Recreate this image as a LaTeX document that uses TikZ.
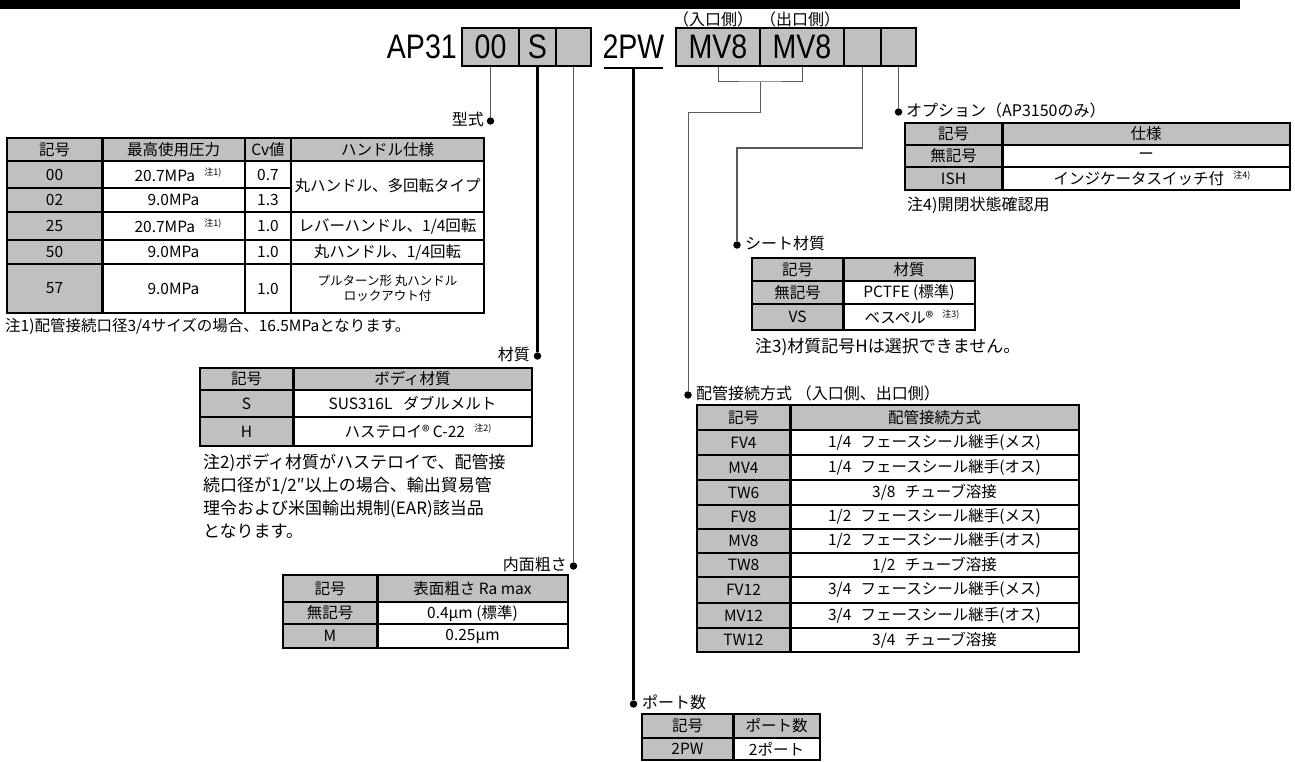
\documentclass[tikz,border=0pt]{standalone}
\usepackage{fontspec}
\setmainfont{Noto Sans CJK JP}
\newfontfamily\latf{Liberation Sans}
\definecolor{hdr}{RGB}{192,192,192}
\definecolor{lng}{RGB}{90,90,90}
\newcommand\fs[1]{\fontsize{#1}{#1}\selectfont}
\newcommand\chu[1]{\hspace{0.6em}\raisebox{0.7ex}{\fs{9}#1}}
\newcommand\nar[1]{\scalebox{0.84}[1]{#1}}
\tikzset{
  cell/.style={inner sep=0pt, font=\fs{15.5}, anchor=center},
  lbl/.style={inner sep=0pt, font=\fs{16}},
  dot/.style={circle, fill=black, inner sep=0pt, minimum size=7.5pt},
  hbx/.style={draw=black, line width=2.5pt, fill=hdr, minimum height=38pt, inner sep=0pt, font=\latf\fs{34}},
  thinl/.style={draw=lng, line width=1pt},
  medl/.style={draw=lng, line width=1.6pt},
  thickl/.style={draw=black, line width=2.2pt},
  framel/.style={draw=black, line width=2.2pt},
  rowl/.style={draw=black, line width=1.6pt},
  splitl/.style={draw=black, line width=3pt},
  coll/.style={draw=black, line width=1.4pt},
}
\newcommand\twotab[7]{%
  \fill[hdr] (#1,#4) rectangle (#3,#7);
  \fill[white] (#2,#5) rectangle (#3,#7);
  \foreach \yy in {#5,#6} {\draw[rowl] (#1,\yy) -- (#3,\yy);}
  \draw[splitl] (#2,#4) -- (#2,#7);
  \draw[framel] (#1,#4) rectangle (#3,#7);
}
\begin{document}
\begin{tikzpicture}[x=1pt,y=-1pt]
\useasboundingbox (0,0) rectangle (1295,762);
\fill[white] (0,0) rectangle (1295,762);
% top bar
\fill[black] (0,0) rectangle (1240,9);

% header labels
\node[lbl] (inL) at (713,19) {（入口側）};
\node[lbl] (outL) at (800,19) {（出口側）};
\node[anchor=east, inner sep=0pt, font=\latf\fs{34}] (ap) at (457,47) {\nar{AP31}};
\node[hbx, minimum width=57pt] (b00) at (490.5,47) {\nar{00}};
\node[hbx, minimum width=37pt] (bS) at (537.5,47) {\nar{S}};
\node[hbx, minimum width=35pt] (bB1) at (573.5,47) {};
\node[inner sep=0pt, font=\latf\fs{34}] (tpw) at (633.5,47) {\nar{2PW}};
\coordinate (ulL) at (604,68);
\coordinate (ulR) at (663,68);
\coordinate (ulM) at (633.5,68);
\draw[black, line width=1.2pt] (ulL) -- (ulR);
\node[hbx, minimum width=84pt] (bMa) at (718,47) {\nar{MV8}};
\node[hbx, minimum width=84pt] (bMb) at (802,47) {\nar{MV8}};
\node[hbx, minimum width=37pt] (bX1) at (862.5,47) {};
\node[hbx, minimum width=35pt] (bX2) at (898.5,47) {};

% dots
\node[dot] (dType) at (490.5,121) {};
\node[dot] (dMat) at (537.5,356) {};
\node[dot] (dRough) at (573.5,566) {};
\node[dot] (dPort) at (633.5,704) {};
\node[dot] (dPipe) at (688,395) {};
\node[dot] (dSeat) at (737,245) {};
\node[dot] (dOpt) at (898.5,112) {};

% connectors
\draw[thinl] (b00.south) -- (dType);
\draw[thickl] (bS.south) -- (dMat);
\draw[medl] (bB1.south) -- (dRough);
\draw[thickl] (ulM) -- (dPort);
\coordinate (brk) at (760,82);
\coordinate (brk2) at (760,113);
\draw[thinl] (bMa.south) |- (brk) -| (bMb.south);
\draw[thinl] (brk) -- (brk2) -| (dPipe);
\coordinate (sj) at (862.5,148);
\draw[medl] (bX1.south) -- (sj) -| (dSeat);
\draw[thinl] (bX2.south) -- (dOpt);

% section labels
\node[lbl, anchor=east] (lType) at (484,119) {型式};
\node[lbl, anchor=east] (lMat) at (530,354) {材質};
\node[lbl, anchor=east] (lRough) at (567,564) {内面粗さ};
\node[lbl, anchor=west] (lOpt) at (906,110) {オプション（AP3150のみ）};
\node[lbl, anchor=west] (lSeat) at (745,243) {シート材質};
\node[lbl, anchor=west] (lPipe) at (696,393) {配管接続方式 （入口側、出口側）};
\node[lbl, anchor=west] (lPort) at (642,702) {ポート数};

% ---------- type table
\fill[hdr] (7,138) rectangle (484,313);
\fill[white] (102,161) rectangle (484,313);
\foreach \yy in {161,212,240,264} {\draw[rowl] (7,\yy) -- (484,\yy);}
\draw[rowl] (7,188) -- (291,188);
\draw[coll] (245,138) -- (245,313);
\draw[coll] (291,138) -- (291,313);
\draw[splitl] (102,138) -- (102,313);
\draw[framel] (7,138) rectangle (484,313);
\node[cell] (t1h1) at (54.5,149.5) {記号};
\node[cell] (t1h2) at (173.5,149.5) {最高使用圧力};
\node[cell] (t1h3) at (268,149.5) {Cv値};
\node[cell] (t1h4) at (387.5,149.5) {ハンドル仕様};
\node[cell] (t1a1) at (54.5,174.5) {00};
\node[cell] (t1a2) at (178,174.5) {20.7MPa\chu{注1)}};
\node[cell] (t1a3) at (268,174.5) {0.7};
\node[cell] (t1a4) at (387.5,186) {丸ハンドル、多回転タイプ};
\node[cell] (t1b1) at (54.5,200) {02};
\node[cell] (t1b2) at (173.5,200) {9.0MPa};
\node[cell] (t1b3) at (268,200) {1.3};
\node[cell] (t1c1) at (54.5,226) {25};
\node[cell] (t1c2) at (178,226) {20.7MPa\chu{注1)}};
\node[cell] (t1c3) at (268,226) {1.0};
\node[cell] (t1c4) at (387.5,226) {レバーハンドル、1/4回転};
\node[cell] (t1d1) at (54.5,252) {50};
\node[cell] (t1d2) at (173.5,252) {9.0MPa};
\node[cell] (t1d3) at (268,252) {1.0};
\node[cell] (t1d4) at (387.5,252) {丸ハンドル、1/4回転};
\node[cell] (t1e1) at (54.5,288.5) {57};
\node[cell] (t1e2) at (173.5,288.5) {9.0MPa};
\node[cell] (t1e3) at (268,288.5) {1.0};
\node[cell, font=\fs{12.5}, align=center] (t1e4) at (387.5,288.5) {プルターン形 丸ハンドル\\[3pt]ロックアウト付};
\node[lbl, anchor=west, font=\fs{15.5}] (n1) at (5,326) {注1)配管接続口径3/4サイズの場合、16.5MPaとなります。};

% ---------- material table
\twotab{200}{293}{532}{368}{390}{417}{446}
\node[cell] (t2h1) at (246.5,379) {記号};
\node[cell] (t2h2) at (412.5,379) {ボディ材質};
\node[cell] (t2a1) at (246.5,403.5) {S};
\node[cell] (t2a2) at (412.5,403.5) {SUS316L\hspace{0.7em}ダブルメルト};
\node[cell] (t2b1) at (246.5,431.5) {H};
\node[cell] (t2b2) at (418,431.5) {ハステロイ® C-22\chu{注2)}};
\node[lbl, anchor=west, font=\fs{17}] (n2a) at (203,463) {注2)ボディ材質がハステロイで、配管接};
\node[lbl, anchor=west, font=\fs{17}] (n2b) at (203,486) {続口径が1/2″以上の場合、輸出貿易管};
\node[lbl, anchor=west, font=\fs{17}] (n2c) at (203,509) {理令および米国輸出規制(EAR)該当品};
\node[lbl, anchor=west, font=\fs{17}] (n2d) at (203,531) {となります。};

% ---------- roughness table
\twotab{283}{377}{568}{575}{602}{624}{648}
\node[cell] (t3h1) at (330,588.5) {記号};
\node[cell] (t3h2) at (472.5,588.5) {表面粗さ Ra max};
\node[cell] (t3a1) at (330,613) {無記号};
\node[cell] (t3a2) at (472.5,613) {0.4μm (標準)};
\node[cell] (t3b1) at (330,636) {M};
\node[cell] (t3b2) at (472.5,636) {0.25μm};

% ---------- option table
\twotab{905}{1002}{1290}{123}{145}{167}{190}
\node[cell] (t4h1) at (953.5,134) {記号};
\node[cell] (t4h2) at (1146,134) {仕様};
\node[cell] (t4a1) at (953.5,156) {無記号};
\node[cell] (t4a2) at (1146,156) {ー};
\node[cell] (t4b1) at (953.5,178.5) {ISH};
\node[cell] (t4b2) at (1152,178.5) {インジケータスイッチ付\chu{注4)}};
\node[lbl, anchor=west] (n4) at (907,205) {注4)開閉状態確認用};

% ---------- seat table
\twotab{752}{843}{975}{258}{281}{304}{330}
\node[cell] (t5h1) at (797.5,269.5) {記号};
\node[cell] (t5h2) at (909,269.5) {材質};
\node[cell] (t5a1) at (797.5,292.5) {無記号};
\node[cell] (t5a2) at (909,292.5) {PCTFE (標準)};
\node[cell] (t5b1) at (797.5,317) {VS};
\node[cell] (t5b2) at (912,317) {ベスペル®\chu{注3)}};
\node[lbl, anchor=west, font=\fs{17}] (n3) at (755,347) {注3)材質記号Hは選択できません。};

% ---------- pipe table
\twotab{697}{790}{1079}{405}{430}{455,480,505,529,553,577,603,628}{652}
\node[cell] (t6h1) at (743.5,417.5) {記号};
\node[cell] (t6h2) at (934.5,417.5) {配管接続方式};
\node[cell] (t6a1) at (743.5,442.5) {FV4};
\node[cell] (t6a2) at (934.5,442.5) {1/4\hspace{0.6em}フェースシール継手(メス)};
\node[cell] (t6b1) at (743.5,467.5) {MV4};
\node[cell] (t6b2) at (934.5,467.5) {1/4\hspace{0.6em}フェースシール継手(オス)};
\node[cell] (t6c1) at (743.5,492.5) {TW6};
\node[cell] (t6c2) at (934.5,492.5) {3/8\hspace{0.6em}チューブ溶接};
\node[cell] (t6d1) at (743.5,517) {FV8};
\node[cell] (t6d2) at (934.5,517) {1/2\hspace{0.6em}フェースシール継手(メス)};
\node[cell] (t6e1) at (743.5,541) {MV8};
\node[cell] (t6e2) at (934.5,541) {1/2\hspace{0.6em}フェースシール継手(オス)};
\node[cell] (t6f1) at (743.5,565) {TW8};
\node[cell] (t6f2) at (934.5,565) {1/2\hspace{0.6em}チューブ溶接};
\node[cell] (t6g1) at (743.5,590) {FV12};
\node[cell] (t6g2) at (934.5,590) {3/4\hspace{0.6em}フェースシール継手(メス)};
\node[cell] (t6h1b) at (743.5,615.5) {MV12};
\node[cell] (t6h2b) at (934.5,615.5) {3/4\hspace{0.6em}フェースシール継手(オス)};
\node[cell] (t6i1) at (743.5,640) {TW12};
\node[cell] (t6i2) at (934.5,640) {3/4\hspace{0.6em}チューブ溶接};

% ---------- port table
\twotab{642}{733}{820}{714}{738}{738}{760}
\node[cell] (t7h1) at (687.5,726) {記号};
\node[cell] (t7h2) at (776.5,726) {ポート数};
\node[cell] (t7a1) at (687.5,749) {2PW};
\node[cell] (t7a2) at (776.5,749) {2ポート};
\end{tikzpicture}
\end{document}
